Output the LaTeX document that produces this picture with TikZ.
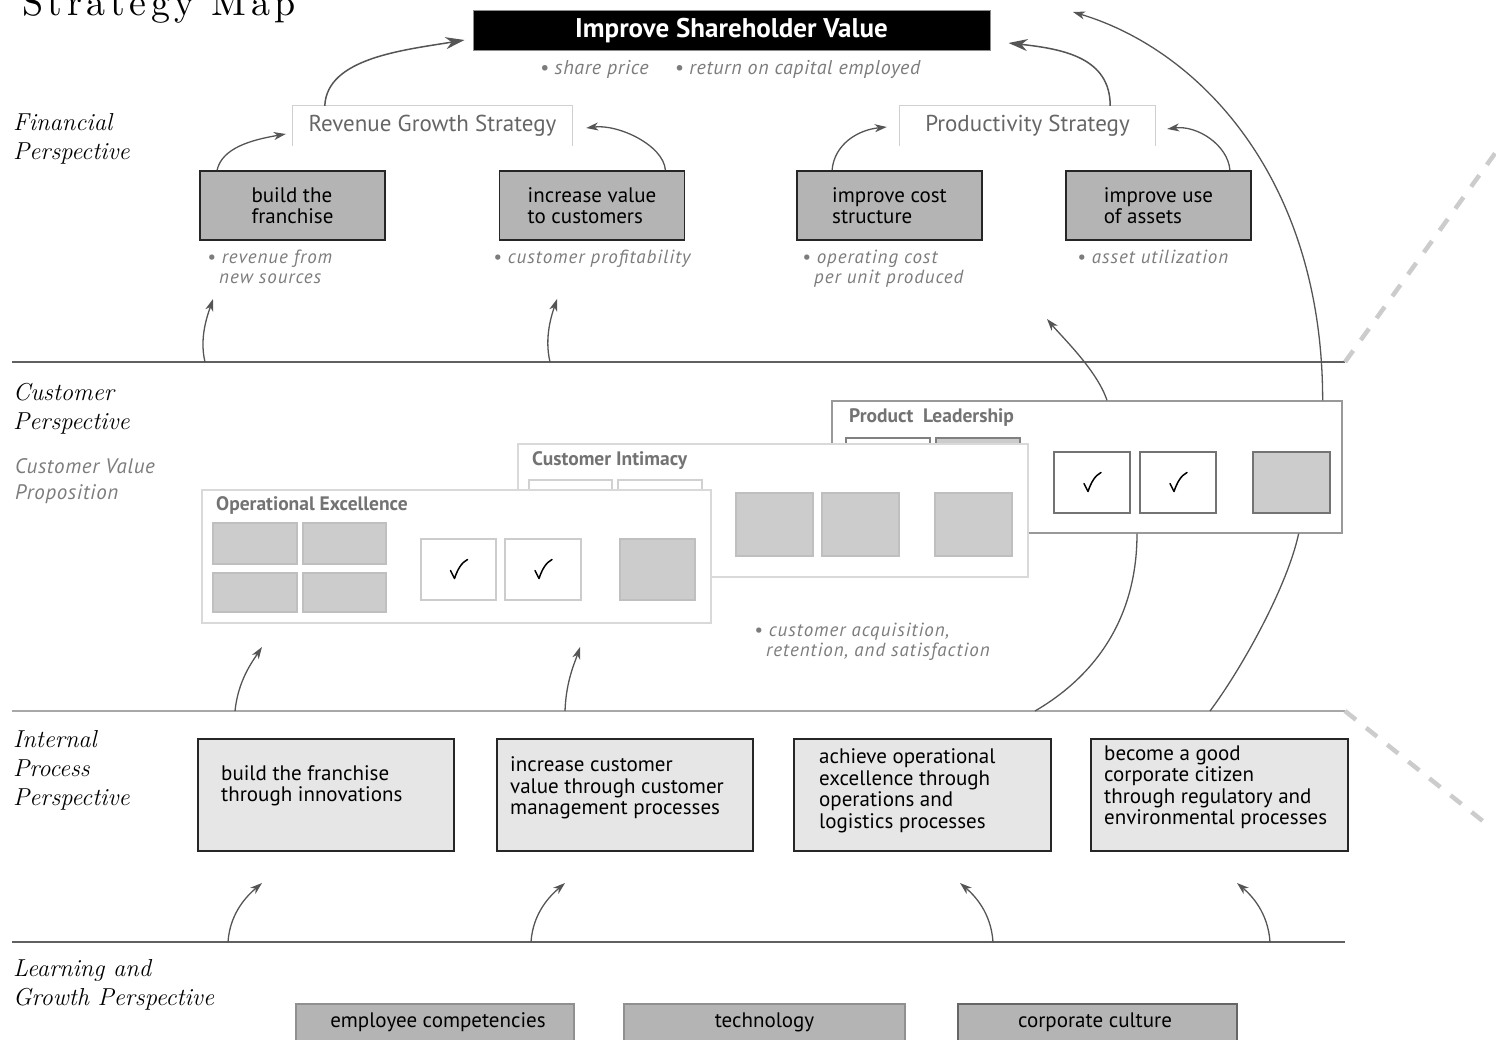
\documentclass[tikz,border=0pt]{standalone}
\usepackage{fontspec}
\setsansfont{PT Sans}
\newfontfamily\titlefont{lmroman10-regular}[Extension=.otf,LetterSpace=12]
\usetikzlibrary{arrows.meta,calc}
\definecolor{finfill}{HTML}{B4B4B4}
\definecolor{ipfill}{HTML}{E6E6E6}
\definecolor{cellfill}{HTML}{CCCCCC}
\definecolor{measc}{HTML}{7C7C7C}
\definecolor{stratc}{HTML}{666666}
\definecolor{stratline}{HTML}{D0D0D0}
\definecolor{arrowc}{HTML}{555555}
\definecolor{sepc}{HTML}{606060}
\definecolor{sepl}{HTML}{A8A8A8}
\definecolor{dashc}{HTML}{CCCCCC}
\definecolor{lgline}{HTML}{909090}
\definecolor{ptitlec}{HTML}{737373}
\newcommand\mylab{\sffamily\fontsize{21}{21.5}\selectfont}
\newcommand\mymeas{\sffamily\itshape\fontsize{19}{19.5}\selectfont\addfontfeatures{LetterSpace=5}}
\newcommand\myper{\rmfamily\itshape\fontsize{24.5}{29}\selectfont}
\tikzset{chk/.pic={\draw[line width=1.5pt, line cap=round, line join=round] (-8,1) -- (-4,9) .. controls (-1,0) and (3,-7) .. (9,-10);}}
\begin{document}
\begin{tikzpicture}[x=1pt,y=-1pt,
  finbox/.style={draw=black!85, line width=1.8pt, fill=finfill, minimum width=185, minimum height=69, inner sep=0pt, align=left, font=\mylab},
  ipbox/.style={draw=black!85, line width=1.6pt, fill=ipfill, minimum width=256, minimum height=112, inner sep=0pt},
  iptext/.style={anchor=west, align=left, inner sep=0pt, font=\mylab},
  lgbox/.style={draw=lgline, line width=1.5pt, fill=finfill, minimum height=44, inner sep=0pt, font=\mylab},
  meas/.style={anchor=north west, align=left, inner sep=0pt, font=\mymeas, text=measc},
  persp/.style={anchor=north west, align=left, inner sep=0pt, font=\myper},
  strat/.style={minimum height=40, inner sep=0pt, font=\sffamily\fontsize{23}{24}\selectfont, text=stratc},
  stratedge/.style={draw=stratline, line width=1.3pt},
  panel/.style={fill=white, line width=1.3pt, inner sep=0pt},
  ptitle/.style={anchor=north west, inner sep=0pt, font=\sffamily\bfseries\fontsize{19.5}{21}\selectfont, text=ptitlec},
  cell/.style={inner sep=0pt, line width=1.2pt},
  arr/.style={draw=arrowc, line width=1.3pt, -{Stealth[length=12pt,width=8pt,inset=3.5pt]}},
  bigarr/.style={draw=arrowc, line width=1.5pt, -{Stealth[length=19pt,width=12pt,inset=6pt]}},
  curve/.style={draw=arrowc, line width=1.3pt},
  sep/.style={draw=sepc, line width=1.5pt},
  dsep/.style={draw=dashc, line width=4.5pt, dash pattern=on 14pt off 13pt}
]
\useasboundingbox (0,0) rectangle (1496,1040);
\clip (0,0) rectangle (1496,1040);

% title
\node[anchor=base west, inner sep=0pt, font=\titlefont\fontsize{38}{40}\selectfont] (maptitle) at (22,16) {Strategy Map};

% top objective
\node[fill=black, draw=black!45, line width=1pt, minimum width=517, minimum height=40, inner sep=0pt, text=white,
      font=\sffamily\bfseries\fontsize{27}{28}\selectfont] (isv) at (731.5,31) {Improve Shareholder Value};
\node[inner sep=0pt, font=\sffamily\itshape\fontsize{20}{21}\selectfont\addfontfeatures{LetterSpace=3}, text=measc] (isvm) at (730,69)
  {\textbullet\ share price\hspace{26pt}\textbullet\ return on capital employed};

% strategy headers
\node[strat, minimum width=279] (rgs) at (432.5,126) {Revenue Growth Strategy};
\draw[stratedge] (rgs.south west) -- (rgs.north west) -- (rgs.north east) -- (rgs.south east);
\node[strat, minimum width=255] (ps) at (1027.5,126) {Productivity Strategy};
\draw[stratedge] (ps.south west) -- (ps.north west) -- (ps.north east) -- (ps.south east);

% financial boxes
\node[finbox] (bf) at (292.5,205.5) {build the\\franchise};
\node[finbox] (iv) at (592,205.5) {increase value\\to customers};
\node[finbox] (ic) at (889.5,205.5) {improve cost\\structure};
\node[finbox] (iu) at (1158.5,205.5) {improve use\\of assets};

% measures
\node[meas] (m1) at (207,250) {\textbullet\ revenue from\\\hspace{12pt}new sources};
\node[meas] (m2) at (493,250) {\textbullet\ customer profitability};
\node[meas] (m3) at (802,250) {\textbullet\ operating cost\\\hspace{12pt}per unit produced};
\node[meas] (m4) at (1077,250) {\textbullet\ asset utilization};
\node[meas] (m5) at (754,623) {\textbullet\ customer acquisition,\\\hspace{12pt}retention, and satisfaction};

% perspective labels
\node[persp] (pf) at (13,113) {Financial\\Perspective};
\node[persp] (pc) at (13,383) {Customer\\Perspective};
\node[anchor=north west, align=left, inner sep=0pt, font=\sffamily\itshape\fontsize{21}{26}\selectfont\addfontfeatures{LetterSpace=3}, text=measc] (pcv) at (15,458) {Customer Value\\Proposition};
\node[persp] (pi) at (13,730) {Internal\\Process\\Perspective};
\node[persp] (pl2) at (13,959) {Learning and\\Growth Perspective};

% separators
\coordinate (s1l) at (12,362); \coordinate (s1r) at (1345,362); \coordinate (s1d) at (1496,152);
\coordinate (s2l) at (12,711); \coordinate (s2r) at (1345,711); \coordinate (s2d) at (1484,822);
\coordinate (s3l) at (12,942); \coordinate (s3r) at (1345,942);
\draw[sep] (s1l) -- (s1r);
\draw[dsep] (s1r) -- (s1d);
\draw[draw=sepl, line width=2.2pt] (s2l) -- (s2r);
\draw[dsep] (s2r) -- (s2d);
\draw[sep] (s3l) -- (s3r);

% customer value panels: Product Leadership (back)
\node[panel, draw=black!40, minimum width=510, minimum height=132] (pl) at (1087,467) {};
\node[ptitle] (plt) at (849,408) {Product\enspace Leadership};
\node[cell, draw=black!50, fill=white, minimum width=84, minimum height=62] (pla) at (888,469) {};
\node[cell, draw=black!50, fill=cellfill, minimum width=84, minimum height=62] (plb) at (978,469) {};
\node[cell, draw=black!55, fill=white, minimum width=76, minimum height=61] (plc) at (1092,482.5) {};
\node[cell, draw=black!55, fill=white, minimum width=76, minimum height=61] (pld) at (1178,482.5) {};
\node[cell, draw=black!55, fill=cellfill, minimum width=77, minimum height=61] (ple) at (1291.5,482.5) {};
\pic at (plc) {chk};
\pic at (pld) {chk};

% Customer Intimacy (middle)
\node[panel, draw=black!15, minimum width=510, minimum height=133] (ci) at (773,510.5) {};
\node[ptitle] (cit) at (532,451) {Customer Intimacy};
\node[cell, draw=black!18, fill=white, minimum width=83, minimum height=62] (cia) at (570.5,511) {};
\node[cell, draw=black!18, fill=white, minimum width=84, minimum height=62] (cib) at (660,511) {};
\node[cell, draw=black!25, fill=cellfill, minimum width=77, minimum height=63] (cic) at (774.5,524.5) {};
\node[cell, draw=black!25, fill=cellfill, minimum width=77, minimum height=63] (cid) at (860.5,524.5) {};
\node[cell, draw=black!25, fill=cellfill, minimum width=77, minimum height=63] (cie) at (973.5,524.5) {};

% Operational Excellence (front)
\node[panel, draw=black!15, minimum width=509, minimum height=133] (oe) at (456.5,556.5) {};
\node[ptitle] (oet) at (216,496) {Operational Excellence};
\node[cell, draw=black!25, fill=cellfill, minimum width=84, minimum height=41] (oea) at (255,543.5) {};
\node[cell, draw=black!25, fill=cellfill, minimum width=83, minimum height=41] (oeb) at (344.5,543.5) {};
\node[cell, draw=black!25, fill=cellfill, minimum width=84, minimum height=39] (oec) at (255,592.5) {};
\node[cell, draw=black!25, fill=cellfill, minimum width=83, minimum height=39] (oed) at (344.5,592.5) {};
\node[cell, draw=black!20, fill=white, minimum width=75, minimum height=61] (oee) at (458.5,569.5) {};
\node[cell, draw=black!20, fill=white, minimum width=76, minimum height=61] (oef) at (543,569.5) {};
\node[cell, draw=black!25, fill=cellfill, minimum width=75, minimum height=61] (oeg) at (657.5,569.5) {};
\pic at (oee) {chk};
\pic at (oef) {chk};

% internal process boxes
\node[ipbox] (ip1) at (326,795) {};
\node[ipbox] (ip2) at (625,795) {};
\node[ipbox, minimum width=257] (ip3) at (922.5,795) {};
\node[ipbox, minimum width=257] (ip4) at (1219.5,795) {};
\node[iptext] (ip1t) at (221,786) {build the franchise\\through innovations};
\node[iptext] (ip2t) at (510,788) {increase customer\\value through customer\\management processes};
\node[iptext] (ip3t) at (819,791) {achieve operational\\excellence through\\operations and\\logistics processes};
\node[iptext] (ip4t) at (1104,787) {become a good\\corporate citizen\\through regulatory and\\environmental processes};

% learning boxes
\node[lgbox, minimum width=278] (lg1) at (435,1026) {};
\node[lgbox, minimum width=281] (lg2) at (764.5,1026) {};
\node[lgbox, minimum width=279, draw=black!60] (lg3) at (1097.5,1026) {};
\node[inner sep=0pt, font=\mylab] (lg1t) at (438,1022) {employee competencies};
\node[inner sep=0pt, font=\mylab] (lg2t) at (764.5,1022) {technology};
\node[inner sep=0pt, font=\mylab] (lg3t) at (1095,1022) {corporate culture};

% financial arrows
\draw[arr] ($(bf.north west)+(18,0)$) .. controls +(5,-22) and +(-35,6) .. ($(rgs.west)+(-7,8)$);
\draw[arr] ($(iv.north east)+(-20,0)$) .. controls +(-2,-25) and +(32,-4) .. ($(rgs.east)+(14,2)$);
\draw[bigarr] ($(rgs.north west)+(32,0)$) .. controls +(2,-48) and +(-60,10) .. ($(isv.west)+(-8,9)$);
\draw[bigarr] ($(ps.north east)+(-45,0)$) .. controls +(0,-48) and +(55,6) .. ($(isv.east)+(18,12)$);
\draw[arr] ($(ic.north west)+(36,0)$) .. controls +(2,-25) and +(-30,3) .. ($(ps.west)+(-13,1)$);
\draw[arr] ($(iu.north east)+(-22,0)$) .. controls +(-2,-25) and +(30,-4) .. ($(ps.east)+(12,3)$);
\coordinate (topend) at (1073,12);
\draw[arr] ($(pl.north east)+(-20,0)$) .. controls +(0,-221) and +(127,38) .. (topend);

% customer perspective arrows
\coordinate (c1s) at (205,362); \coordinate (c1e) at (213,299);
\coordinate (c2s) at (550,362); \coordinate (c2e) at (557,299);
\coordinate (c3e) at (1047,319);
\draw[arr] (c1s) .. controls +(-6,-25) and +(-5,15) .. (c1e);
\draw[arr] (c2s) .. controls +(-6,-25) and +(-5,15) .. (c2e);
\draw[arr] ($(pl.north)+(20,0)$) .. controls +(-10,-30) and +(15,18) .. (c3e);

% internal process arrows
\coordinate (i1s) at (235,711); \coordinate (i1e) at (262,647);
\coordinate (i2s) at (565,711); \coordinate (i2e) at (580,647);
\draw[arr] (i1s) .. controls +(3,-30) and +(-10,15) .. (i1e);
\draw[arr] (i2s) .. controls +(1,-30) and +(-5,15) .. (i2e);
\coordinate (l1e) at (1035,711); \coordinate (l2e) at (1210,711);
\draw[curve] ($(pl.south)+(50,0)$) .. controls +(0,85) and +(60,-35) .. (l1e);
\draw[curve] ($(pl.south east)+(-44,0)$) .. controls +(-12,55) and +(30,-40) .. (l2e);

% learning arrows
\coordinate (g1s) at (228,942); \coordinate (g1e) at (262,883);
\coordinate (g2s) at (531,942); \coordinate (g2e) at (565,883);
\coordinate (g3s) at (993,942); \coordinate (g3e) at (960,883);
\coordinate (g4s) at (1270,942); \coordinate (g4e) at (1237,883);
\draw[arr] (g1s) .. controls +(2,-30) and +(-14,12) .. (g1e);
\draw[arr] (g2s) .. controls +(2,-30) and +(-14,12) .. (g2e);
\draw[arr] (g3s) .. controls +(-2,-30) and +(14,12) .. (g3e);
\draw[arr] (g4s) .. controls +(-2,-30) and +(14,12) .. (g4e);
\end{tikzpicture}
\end{document}
